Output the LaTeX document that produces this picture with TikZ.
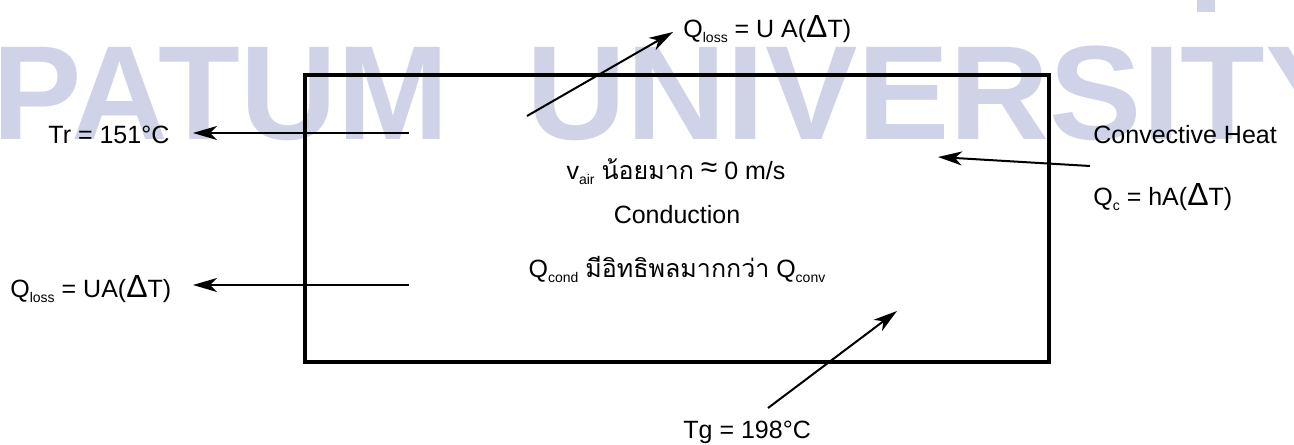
\documentclass[tikz,border=0pt]{standalone}
\usepackage{fontspec}
\setmainfont{Liberation Sans}
\newfontfamily\thaifont[Script=Thai]{Loma}
\usetikzlibrary{arrows.meta}
\definecolor{wmark}{RGB}{208,211,232}
\newcommand{\lowsub}[1]{\raisebox{-2.5pt}{\fontsize{7}{8}\selectfont #1}}
\newcommand{\bigdelta}{{\fontsize{16}{16}\selectfont Δ}}
\newcommand{\bigapprox}{\raisebox{1pt}{\fontsize{15}{15}\selectfont ≈}}

\begin{document}
\begin{tikzpicture}[x=0.5pt, y=-0.5pt,
    lbl/.style={inner sep=0pt, font=\fontsize{12.5}{15}\selectfont},
    flow/.style={line width=1pt, -{Stealth[length=12pt, width=7pt, inset=3.5pt]}},
    wm/.style={inner sep=0pt, text=wmark, font=\fontsize{67}{67}\selectfont\bfseries}]
    \useasboundingbox (0,0) rectangle (1294,444);

    % --- WATERMARK (BACK) ---
    \node[wm, anchor=base west] (wmleft) at (-8,140) {PATUM};
    \node[wm, anchor=base west, xscale=1.034, transform shape] (wmright) at (526,140) {UNIVERSITY};
    \fill[wmark] (1197,0) rectangle (1215,12);

    % --- CHAMBER ---
    \draw[line width=2pt] (305,75) rectangle (1049,362);

    % Inside text
    \node[lbl, anchor=base] (vair) at (676,179) {v\lowsub{air} {\thaifont น้อยมาก} \bigapprox{} 0 m/s};
    \node[lbl, anchor=base] (cond) at (677,223) {Conduction};
    \node[lbl, anchor=base] (qcomp) at (677,277) {Q\lowsub{cond} {\thaifont มีอิทธิพลมากกว่า} Q\lowsub{conv}};

    % Outside labels
    \node[lbl, anchor=base west] (qtop) at (683,38) {Q\lowsub{loss} = U A(\bigdelta T)};
    \node[lbl, anchor=base west] (tr) at (48,143) {Tr = 151°C};
    \node[lbl, anchor=base west] (qleft) at (10,297) {Q\lowsub{loss} = UA(\bigdelta T)};
    \node[lbl, anchor=base west] (conv) at (1093,143) {Convective Heat};
    \node[lbl, anchor=base west] (qc) at (1093,205) {Q\lowsub{c} = hA(\bigdelta T)};
    \node[lbl, anchor=base west] (tg) at (683,438) {Tg = 198°C};

    % --- HEAT FLOW ARROWS ---
    \coordinate (qtopstart) at (527,116);
    \coordinate (qtopend) at (673,32);
    \coordinate (trstart) at (409,133);
    \coordinate (trend) at (193,133);
    \coordinate (qleftstart) at (409,285);
    \coordinate (qleftend) at (193,285);
    \coordinate (convstart) at (1090,166);
    \coordinate (convend) at (938,157);
    \coordinate (tgstart) at (768,408);
    \coordinate (tgend) at (897,311);

    \draw[flow] (qtopstart) -- (qtopend);
    \draw[flow] (trstart) -- (trend);
    \draw[flow] (qleftstart) -- (qleftend);
    \draw[flow] (convstart) -- (convend);
    \draw[flow] (tgstart) -- (tgend);
\end{tikzpicture}
\end{document}
